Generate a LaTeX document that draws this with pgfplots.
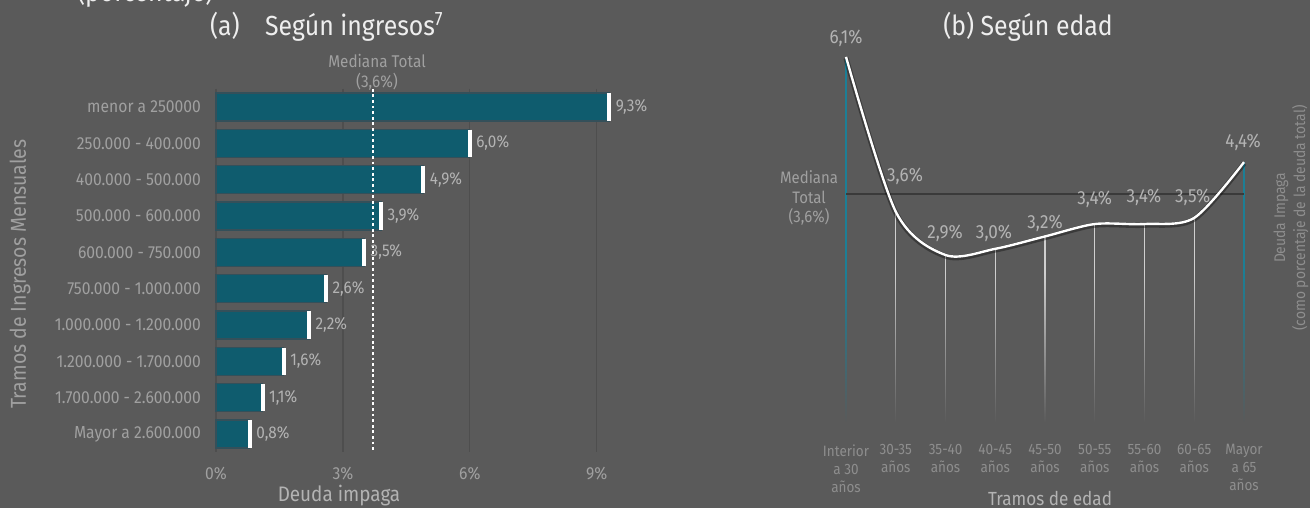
\documentclass[border=0pt]{standalone}
\usepackage{fontspec}
\setmainfont{Fira Sans}[FakeStretch=0.9]
\usepackage{pgfplots}
\pgfplotsset{compat=1.18}
\usetikzlibrary{fadings}

\definecolor{bg}{HTML}{5A5A5A}
\definecolor{barc}{HTML}{0F5C6E}
\definecolor{baredge}{HTML}{34505A}
\definecolor{gridc}{HTML}{4E4E4E}
\definecolor{tickc}{HTML}{A0A0A0}
\definecolor{valc}{HTML}{B3B3B3}
\definecolor{titlec}{HTML}{EEEEEE}
\definecolor{faintc}{HTML}{8E8E8E}
\definecolor{dropc}{HTML}{CFCFCF}
\definecolor{tealc}{HTML}{1C7F96}
\definecolor{medc}{HTML}{3A3A3A}

\begin{document}
\begin{tikzpicture}
\useasboundingbox (0,0) rectangle (655pt,254pt);
\fill[bg] (0,0) rectangle (655pt,254pt);
\clip (0,0) rectangle (655pt,254pt);

% (a) by income
\begin{axis}[
  at={(108pt,27.9pt)}, anchor=south west,
  scale only axis, width=211.5pt, height=181.7pt,
  xmin=0, xmax=10, ymin=0.5, ymax=10.5, y dir=reverse,
  axis line style={draw=none}, major tick length=0pt,
  xtick={0,3,6,9}, xticklabels={0\%,3\%,6\%,9\%},
  ytick={1,...,10},
  yticklabels={menor a 250000, 250.000 - 400.000, 400.000 - 500.000,
    500.000 - 600.000, 600.000 - 750.000, 750.000 - 1.000.000,
    1.000.000 - 1.200.000, 1.200.000 - 1.700.000, 1.700.000 - 2.600.000,
    Mayor a 2.600.000},
  xmajorgrids, grid style={gridc, line width=0.6pt},
  ticklabel style={font=\fontsize{8.7}{10}\selectfont, text=tickc},
  xticklabel style={yshift=-4pt},
  yticklabel style={xshift=-4pt},
  clip=false,
]
\addplot[xbar, bar width=14pt, fill=barc, draw=baredge, line width=0.6pt,
  point meta=x,
  nodes near coords={\pgfmathprintnumber[fixed,fixed zerofill,precision=1,use comma,assume math mode=true]{\pgfplotspointmeta}\%},
  nodes near coords style={font=\fontsize{8.5}{10}\selectfont, text=valc, anchor=west, inner sep=1pt, xshift=2pt}]
  coordinates {(9.3,1) (6.0,2) (4.9,3) (3.9,4) (3.5,5) (2.6,6) (2.2,7) (1.6,8) (1.1,9) (0.8,10)};
\addplot[only marks, mark=|, mark size=6.8pt, mark options={draw=white, line width=2pt}]
  coordinates {(9.3,1) (6.0,2) (4.9,3) (3.9,4) (3.5,5) (2.6,6) (2.2,7) (1.6,8) (1.1,9) (0.8,10)};
\addplot[white, line width=1pt, dash pattern=on 1.4pt off 1.4pt]
  coordinates {(3.7,0.5) (3.7,10.5)};
\end{axis}

% (b) by age
\begin{axis}[
  at={(423pt,36.75pt)}, anchor=south west,
  scale only axis, width=199pt, height=188.8pt,
  xmin=0, xmax=8, ymin=0, ymax=6.1,
  axis line style={draw=none}, major tick length=0pt,
  xtick={0,...,8},
  xticklabels={{Interior\\a 30\\años},{30-35\\años},{35-40\\años},{40-45\\años},
    {45-50\\años},{50-55\\años},{55-60\\años},{60-65\\años},{Mayor\\a 65\\años}},
  xticklabel style={align=center, font=\fontsize{7.5}{9}\selectfont, text=faintc, yshift=-1.5pt},
  ytick=\empty,
  clip=false,
]
\addplot[ycomb, dropc, line width=0.6pt, no marks]
  coordinates {(1,3.6) (2,2.9) (3,3.0) (4,3.2) (5,3.4) (6,3.4) (7,3.5)};
\addplot[ycomb, tealc, line width=1pt, no marks]
  coordinates {(0,6.1) (8,4.4)};
\fill[bg] (axis cs:-0.1,-0.01) rectangle (axis cs:8.1,0.2);
\fill[bg, path fading=north] (axis cs:-0.1,0.19) rectangle (axis cs:8.1,2.6);
\addplot[medc, line width=1.2pt, no marks] coordinates {(0,3.885) (8,3.885)};
\addplot[smooth, black, opacity=0.35, line width=2.6pt, no marks, yshift=-0.6pt]
  coordinates {(0,6.1) (1,3.6) (2,2.9) (3,3.0) (4,3.2) (5,3.4) (6,3.4) (7,3.5) (8,4.4)};
\addplot[smooth, white, line width=1.2pt, no marks]
  coordinates {(0,6.1) (1,3.6) (2,2.9) (3,3.0) (4,3.2) (5,3.4) (6,3.4) (7,3.5) (8,4.4)};
\begin{scope}[every node/.style={font=\fontsize{9.5}{11}\selectfont, text=valc}]
\node at (axis cs:0,6.405) {6,1\%};
\node at (axis cs:1.186,4.176) {3,6\%};
\node at (axis cs:1.99,3.255) {2,9\%};
\node at (axis cs:2.975,3.255) {3,0\%};
\node at (axis cs:4.0,3.417) {3,2\%};
\node at (axis cs:5.0,3.804) {3,4\%};
\node at (axis cs:5.99,3.837) {3,4\%};
\node at (axis cs:6.97,3.837) {3,5\%};
\node at (axis cs:7.98,4.725) {4,4\%};
\end{scope}
\end{axis}

% titles and labels
\node[anchor=base west, text=titlec, font=\fontsize{13.8}{16}\selectfont] at (35pt,253.4pt) {(porcentaje)};
\node[anchor=base west, text=titlec, font=\fontsize{13.8}{16}\selectfont] at (101.5pt,236pt) {(a)};
\node[anchor=base west, text=titlec, font=\fontsize{13.8}{16}\selectfont] at (129pt,236pt) {Según ingresos\textsuperscript{7}};
\node[anchor=base, text=titlec, font=\fontsize{13.8}{16}\selectfont] at (514pt,236pt) {(b) Según edad};
\node[align=center, text=tickc, font=\fontsize{8.5}{10}\selectfont] at (188.5pt,218pt) {Mediana Total\\(3,6\%)};
\node[align=center, text=tickc, font=\fontsize{8.3}{9.75}\selectfont] at (404.5pt,155pt) {Mediana\\Total\\(3,6\%)};
\node[rotate=90, text=tickc, font=\fontsize{10.8}{12}\selectfont] at (10pt,117pt) {Tramos de Ingresos Mensuales};
\node[text=valc, font=\fontsize{10.5}{12}\selectfont] at (169.5pt,6pt) {Deuda impaga};
\node[text=valc, font=\fontsize{9.5}{11}\selectfont] at (525pt,5pt) {Tramos de edad};
\node[rotate=90, align=center, text=faintc, font=\fontsize{7.7}{10}\selectfont] at (645.5pt,145pt) {Deuda Impaga\\(como porcentaje de la deuda total)};
\end{tikzpicture}
\end{document}
